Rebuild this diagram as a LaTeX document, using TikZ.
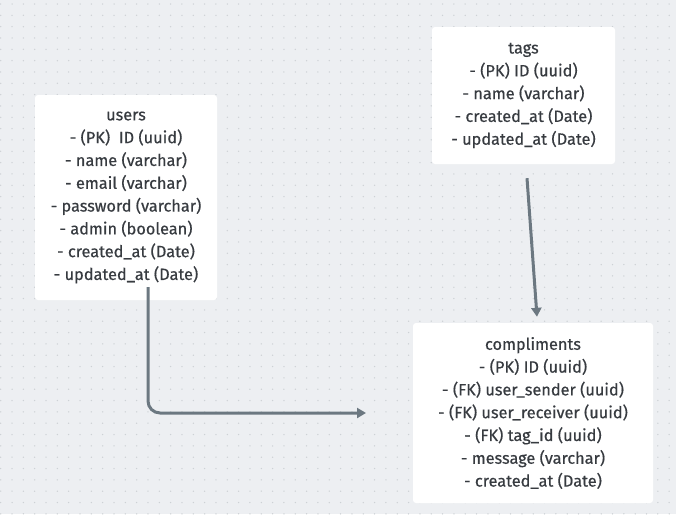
\documentclass[tikz,border=0pt]{standalone}
\usepackage{fontspec}
\setmainfont{Fira Sans}[FakeBold=0.5]
\usetikzlibrary{arrows.meta}
\definecolor{bg-grau}{HTML}{EDEFF2}
\definecolor{punkt-grau}{HTML}{CDD1D5}
\definecolor{text-grau}{HTML}{373B40}
\definecolor{pfeil-grau}{HTML}{6C7881}

\tikzset{
    tabelle/.style={fill=white, rounded corners=3pt, align=center, inner sep=0pt,
        text=text-grau, font=\fontsize{16.3}{22.8}\selectfont},
    beziehung/.style={draw=pfeil-grau, line width=3pt, rounded corners=12pt,
        -{Triangle[length=9pt, width=10pt]}}
}

\begin{document}
\begin{tikzpicture}[x=1pt, y=-1pt]

\fill[bg-grau] (0,0) rectangle (676,514);
\useasboundingbox (0,0) rectangle (676,514);

% Punktraster im Hintergrund
\foreach \i in {0,...,59} {
    \foreach \j in {0,...,45} {
        \fill[punkt-grau] (0.7+11.33*\i, 4+11.33*\j) circle (0.75pt);
    }
}

\node[tabelle, minimum width=182pt, minimum height=205pt] (users) at (126,197.5) {users\\
- (PK)~ ID (uuid)\\
- name (varchar)\\
- email (varchar)\\
- password (varchar)\\
- admin (boolean)\\
- created\_at (Date)\\
- updated\_at (Date)};

\node[tabelle, minimum width=183pt, minimum height=137pt] (tags) at (523.5,95.5) {tags\\
- (PK) ID (uuid)\\
- name (varchar)\\
- created\_at (Date)\\
- updated\_at (Date)};

\node[tabelle, minimum width=240pt, minimum height=180pt] (compliments) at (533,413) {compliments\\
- (PK) ID (uuid)\\
- (FK) user\_sender (uuid)\\
- (FK) user\_receiver (uuid)\\
- (FK) tag\_id (uuid)\\
- message (varchar)\\
- created\_at (Date)};

% Verbindungen
\coordinate (users-out) at (148,287);
\coordinate (users-in) at (366,413);
\draw[beziehung] (users-out) |- (users-in);
\draw[beziehung] ([xshift=3.5pt, yshift=-14pt]tags.south) -- ([xshift=4pt, yshift=6pt]compliments.north);

\end{tikzpicture}
\end{document}
